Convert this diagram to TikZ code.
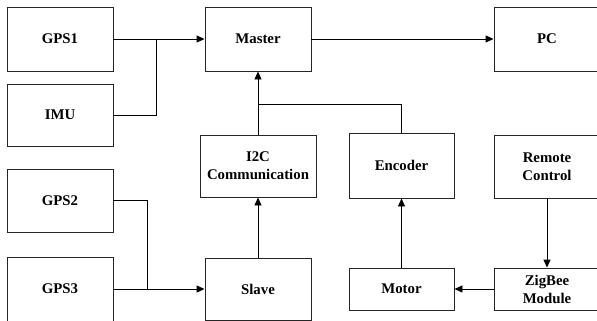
\documentclass[tikz,border=0pt]{standalone}
\usepackage{fontspec}
\setmainfont{Liberation Serif}
\usetikzlibrary{arrows.meta}
\begin{document}
\begin{tikzpicture}[x=1bp,y=-1bp,
  box/.style={draw=black!85, line width=0.9bp, inner sep=0pt, align=center,
    font=\fontsize{14.8bp}{18bp}\selectfont\bfseries},
  conn/.style={draw=black, line width=0.9bp},
  arr/.style={conn, -{Triangle[length=8bp,width=7bp]}}]
\useasboundingbox (0,0) rectangle (597,320);
\clip (0,0) rectangle (597,320);
\node[box, minimum width=106bp, minimum height=64bp] (gps1) at (60,39) {GPS1};
\node[box, minimum width=106bp, minimum height=62bp] (imu) at (60,115) {IMU};
\node[box, minimum width=106bp, minimum height=64bp] (master) at (258,39) {Master};
\node[box, minimum width=106bp, minimum height=64bp] (pc) at (547,39) {PC};
\node[box, minimum width=116bp, minimum height=62bp] (i2c) at (258,166) {I2C\\Communication};
\node[box, minimum width=105bp, minimum height=65bp] (enc) at (401.5,165.5) {Encoder};
\node[box, minimum width=106bp, minimum height=63bp] (remote) at (547,166.5) {Remote\\Control};
\node[box, minimum width=106bp, minimum height=63bp] (gps2) at (60,200.5) {GPS2};
\node[box, minimum width=106bp, minimum height=64bp] (gps3) at (60,289) {GPS3};
\node[box, minimum width=106bp, minimum height=62bp] (slave) at (258,289) {Slave};
\node[box, minimum width=105bp, minimum height=42bp] (motor) at (401.5,289) {Motor};
\node[box, minimum width=106bp, minimum height=42bp] (zig) at (547,289) {ZigBee\\Module};
\coordinate (j1) at (156,39);
\coordinate (j2) at (258,104);
\coordinate (j3) at (147,289);
\draw[arr] (gps1.east) -- (master.west);
\draw[conn] (imu.east) -| (j1);
\draw[arr] (master.east) -- (pc.west);
\draw[arr] (i2c.north) -- (master.south);
\draw[conn] (enc.north) |- (j2);
\draw[arr] (slave.north) -- (i2c.south);
\draw[conn] (gps2.east) -| (j3);
\draw[arr] (gps3.east) -- (slave.west);
\draw[arr] (motor.north) -- (enc.south);
\draw[arr] (remote.south) -- (zig.north);
\draw[arr] (zig.west) -- (motor.east);
\end{tikzpicture}
\end{document}
